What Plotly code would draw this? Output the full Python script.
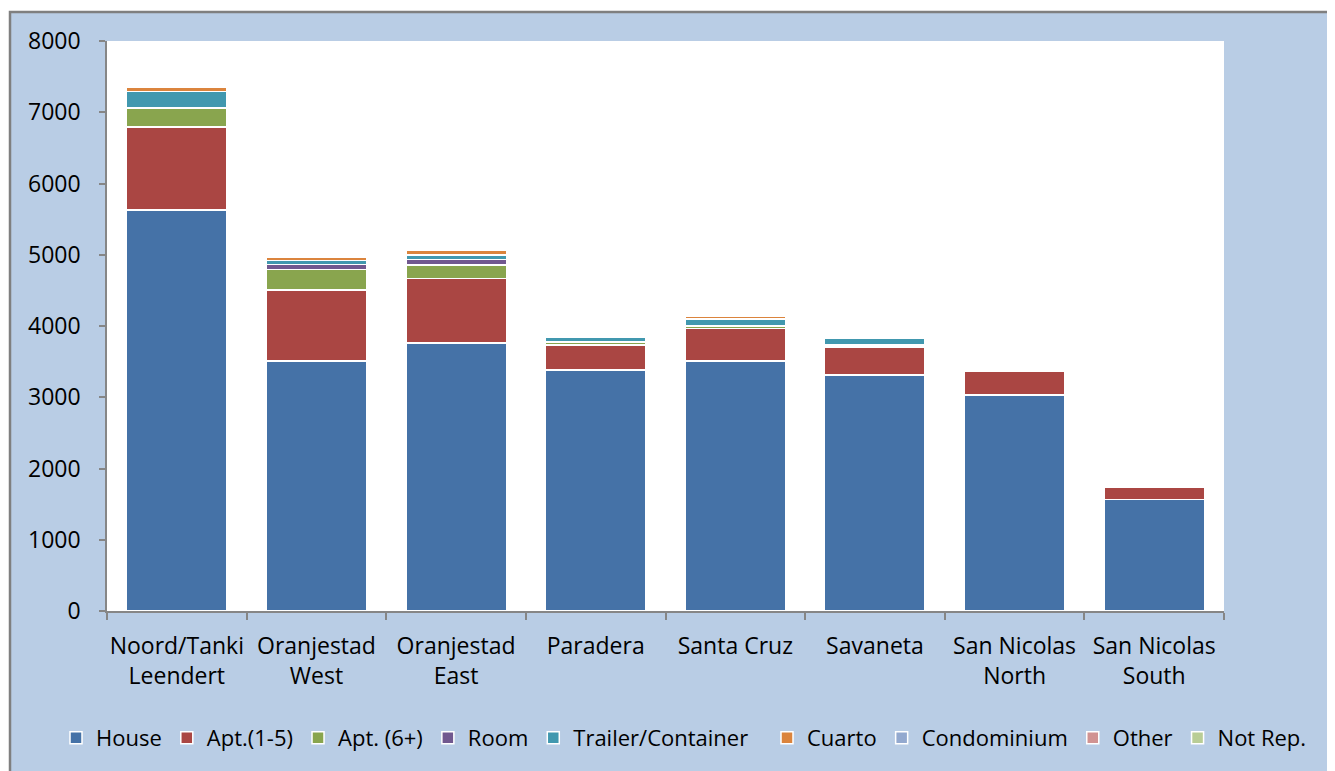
import plotly.graph_objects as go

categories = ["Noord/Tanki<br>Leendert", "Oranjestad<br>West", "Oranjestad<br>East", "Paradera",
              "Santa Cruz", "Savaneta", "San Nicolas<br>North", "San Nicolas<br>South"]

house      = [5630, 3510, 3760, 3380, 3510, 3310, 3030, 1565]
apt_1_5    = [1160,  995,  910,  350,  455,  390,  330,  175]
apt_6_plus = [ 260,  290,  185,   45,   25,   20,    5,    5]
room       = [  20,   70,   80,   10,   15,   15,    0,    0]
trailer    = [ 220,   55,   60,   60,   95,  100,    5,    5]
cuarto     = [  55,   50,   65,   15,   40,   20,    0,    0]
condo      = [  10,    5,   10,    5,   10,    5,    0,    0]
other      = [   5,    5,    5,    5,    5,    5,    5,    5]
not_rep    = [   5,    5,    5,    0,    5,    0,    0,    0]

series_names = ["House", "Apt.(1-5)", "Apt. (6+)", "Room", "Trailer/Container",
                "Cuarto", "Condominium", "Other", "Not Rep."]
series_values = [house, apt_1_5, apt_6_plus, room, trailer, cuarto, condo, other, not_rep]
series_colors = ["#4572A7", "#AA4643", "#89A54E", "#71588F", "#4198AF",
                 "#DB843D", "#93A9CF", "#D19392", "#B9CD96"]

y_ticks = [0, 1000, 2000, 3000, 4000, 5000, 6000, 7000, 8000]

# page is offset by the 8px body margin
OFF = 8
W, H = 1335 - OFF, 771 - OFF
ML = 107 - OFF
MT = 41 - OFF
MR = W - (1224 - OFF)
MB = H - (611 - OFF)
pw, ph = W - ML - MR, H - MT - MB

def px_x(p):  # page px -> paper x
    return (p - OFF - ML) / pw

def px_y(p):  # page px -> paper y
    return (H - MB - (p - OFF)) / ph

fig = go.Figure()
for i, (name, vals, col) in enumerate(zip(series_names, series_values, series_colors)):
    fig.add_trace(go.Bar(
        x=categories, y=vals, name=name,
        legend="legend" if i < 5 else "legend2",
        marker=dict(color=col, line=dict(color="white", width=1.5)),
    ))

font_family = "Open Sans, sans-serif"
blue_bg = "#B9CDE5"

fx, fy = px_x(10), px_y(12)
shapes = [
    dict(type="rect", xref="paper", yref="paper", x0=px_x(-20), x1=px_x(1400),
         y0=fy, y1=px_y(-20), fillcolor="white", line=dict(width=0), layer="above"),
    dict(type="rect", xref="paper", yref="paper", x0=px_x(-20), x1=fx,
         y0=px_y(900), y1=px_y(-20), fillcolor="white", line=dict(width=0), layer="above"),
    dict(type="path", xref="paper", yref="paper",
         path=f"M {fx} {px_y(900)} L {fx} {fy} L {px_x(1400)} {fy}",
         line=dict(color="#7F7F7F", width=2.5), layer="above"),
]

legend_common = dict(orientation="h", yanchor="middle", y=px_y(738),
                     font=dict(size=22, color="black", family=font_family),
                     bgcolor="rgba(0,0,0,0)", borderwidth=0,
                     itemwidth=30, traceorder="normal")

fig.update_layout(
    width=W, height=H,
    margin=dict(l=ML, r=MR, t=MT, b=MB),
    barmode="stack", bargap=0.28,
    paper_bgcolor=blue_bg, plot_bgcolor="white",
    font=dict(family=font_family, size=22, color="black"),
    showlegend=True,
    legend=dict(x=px_x(56), xanchor="left", **legend_common),
    legend2=dict(x=px_x(1312), xanchor="right", **legend_common),
    shapes=shapes,
)
fig.update_xaxes(
    showline=True, linecolor="#868686", linewidth=1.5,
    ticks="outside", ticklen=7, tickcolor="#868686", tickwidth=1.5,
    tickson="boundaries", showgrid=False, zeroline=False, ticklabelstandoff=14,
    tickangle=0,
    tickfont=dict(size=23, color="black", family=font_family),
)
fig.update_yaxes(
    range=[0, 8000], tickvals=y_ticks, ticktext=[str(v) for v in y_ticks],
    showline=True, linecolor="#868686", linewidth=1.5,
    ticks="outside", ticklen=6, tickcolor="#868686", tickwidth=1.5,
    showgrid=False, zeroline=False, ticklabelstandoff=14,
    tickfont=dict(size=23, color="black", family=font_family),
)

fig.write_html("out.html")
